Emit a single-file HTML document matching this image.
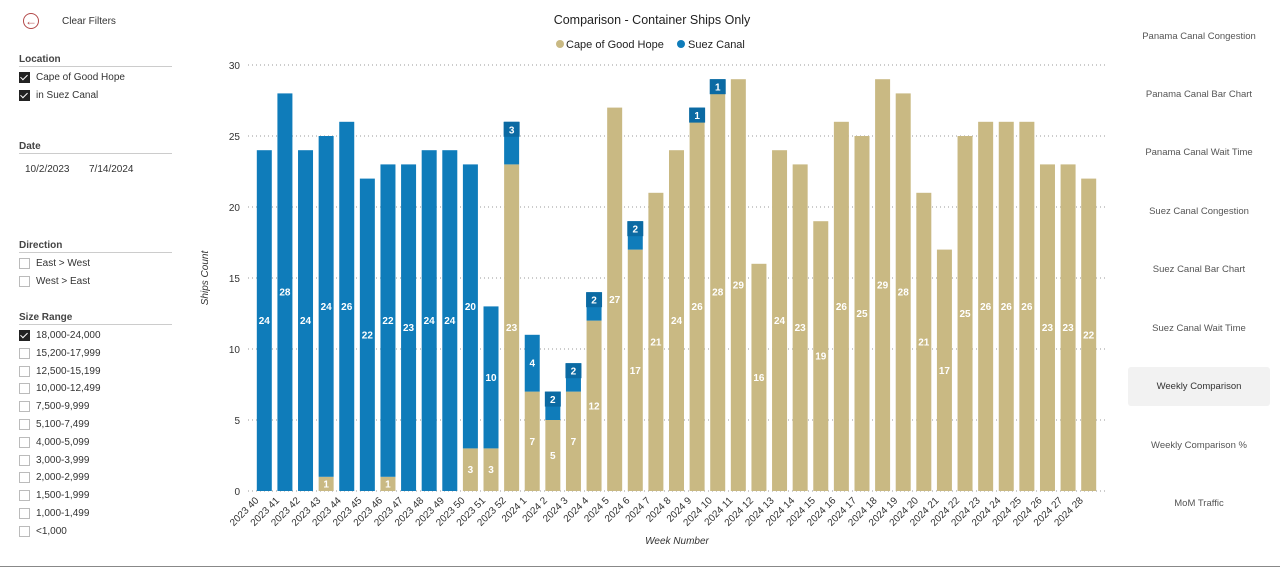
<!DOCTYPE html>
<html><head><meta charset="utf-8"><style>
body{margin:0;width:1280px;height:568px;background:#fff;font-family:"Liberation Sans",sans-serif;overflow:hidden;position:relative}
.t{position:absolute;font-size:10px;color:#333;white-space:nowrap}
.h{position:absolute;font-size:10px;font-weight:bold;color:#444;left:19px;width:153px;border-bottom:1px solid #ccc;padding-bottom:1px}
.cb{position:absolute;width:9px;height:9px;border:1px solid #bbb;left:19px}
.cb.on{background:#222;border-color:#222}
.cb.on:after{content:"";position:absolute;left:2px;top:0px;width:3px;height:6px;border:solid #fff;border-width:0 1.5px 1.5px 0;transform:rotate(45deg)}
.nav{position:absolute;left:1128px;width:142px;text-align:center;font-size:9.5px;color:#555}
</style></head><body>
<div style="position:absolute;left:23px;top:13px;width:14px;height:14px;border:1.5px solid #b34a4a;border-radius:50%;color:#b34a4a;font-size:12px;line-height:14px;text-align:center">←</div>
<div class="t" style="left:62px;top:16px">Clear Filters</div>
<div class="h" style="top:54px">Location</div>
<div class="cb on" style="top:72px"></div><div class="t" style="left:36px;top:72px">Cape of Good Hope</div>
<div class="cb on" style="top:90px"></div><div class="t" style="left:36px;top:90px">in Suez Canal</div>
<div class="h" style="top:141px">Date</div>
<div class="t" style="left:25px;top:164px">10/2/2023</div>
<div class="t" style="left:89px;top:164px">7/14/2024</div>
<div class="h" style="top:240px">Direction</div>
<div class="cb" style="top:258px"></div><div class="t" style="left:36px;top:258px">East &gt; West</div>
<div class="cb" style="top:276px"></div><div class="t" style="left:36px;top:276px">West &gt; East</div>
<div class="h" style="top:312px">Size Range</div>
<div id="sizes"></div>
<div class="nav" style="top:31px">Panama Canal Congestion</div>
<div class="nav" style="top:89px">Panama Canal Bar Chart</div>
<div class="nav" style="top:147px">Panama Canal Wait Time</div>
<div class="nav" style="top:206px">Suez Canal Congestion</div>
<div class="nav" style="top:264px">Suez Canal Bar Chart</div>
<div class="nav" style="top:323px">Suez Canal Wait Time</div>
<div class="nav" style="top:367px;height:39px;line-height:39px;background:#f2f2f2;border-radius:3px;color:#333">Weekly Comparison</div>
<div class="nav" style="top:440px">Weekly Comparison %</div>
<div class="nav" style="top:498px">MoM Traffic</div>
<svg id="c" width="1280" height="568" style="position:absolute;left:0;top:0"></svg>
<script>
const categories=["2023 40","2023 41","2023 42","2023 43","2023 44","2023 45","2023 46","2023 47","2023 48","2023 49","2023 50","2023 51","2023 52","2024 1","2024 2","2024 3","2024 4","2024 5","2024 6","2024 7","2024 8","2024 9","2024 10","2024 11","2024 12","2024 13","2024 14","2024 15","2024 16","2024 17","2024 18","2024 19","2024 20","2024 21","2024 22","2024 23","2024 24","2024 25","2024 26","2024 27","2024 28"];
const capeValues=[0,0,0,1,0,0,1,0,0,0,3,3,23,7,5,7,12,27,17,21,24,26,28,29,16,24,23,19,26,25,29,28,21,17,25,26,26,26,23,23,22];
const suezValues=[24,28,24,24,26,22,22,23,24,24,20,10,3,4,2,2,2,0,2,0,0,1,1,0,0,0,0,0,0,0,0,0,0,0,0,0,0,0,0,0,0];
const yTicks=[0,5,10,15,20,25,30];
const sizeOptions=["18,000-24,000","15,200-17,999","12,500-15,199","10,000-12,499","7,500-9,999","5,100-7,499","4,000-5,099","3,000-3,999","2,000-2,999","1,500-1,999","1,000-1,499","<1,000"];
const sz=document.getElementById('sizes');
sizeOptions.forEach((s,i)=>{
  const b=document.createElement('div');b.className='cb'+(i==0?' on':'');b.style.top=(330+i*17.8)+'px';
  
  
  sz.appendChild(b);
  const t=document.createElement('div');t.className='t';t.style.left='36px';t.style.top=(330+i*17.8)+'px';t.textContent=s;
  
  
  sz.appendChild(t);
});
const NS="http://www.w3.org/2000/svg",svg=document.getElementById('c');
function el(tag,a,txt){const e=document.createElementNS(NS,tag);for(const k in a)e.setAttribute(k,a[k]);if(txt!=null)e.textContent=txt;svg.appendChild(e);return e;}
const x0=254,x1=1099,y0=491,yTop=65,ymax=30;
const step=(x1-x0)/categories.length,bw=15;
const X=i=>x0+step*(i+0.5), Y=v=>y0-(v/ymax)*(y0-yTop);
const CAPE="#c9b983",SUEZ="#0f7cba";
yTicks.forEach(v=>{
  const l=el('line',{x1:x0-6,x2:1108,y1:Y(v),y2:Y(v),stroke:'#999','stroke-dasharray':'1,3'});
  
  
  const t=el('text',{x:240,y:Y(v)+4,'text-anchor':'end','font-size':10,fill:'#333'},v);
  
  
});
function lab(x,y,v,onBox,boxColor){
  if(onBox){const r=el('rect',{x:x-8,y:y-8,width:16,height:15,fill:boxColor});}
  const t=el('text',{x:x,y:y+3.5,'text-anchor':'middle','font-size':10,'font-weight':'bold',fill:'#fff'},v);
  
  
}
categories.forEach((c,i)=>{
  const cx=X(i),cp=capeValues[i],sv=suezValues[i];
  if(cp>0){const r=el('rect',{x:cx-bw/2,y:Y(cp),width:bw,height:y0-Y(cp),fill:CAPE});
    }
  if(sv>0){const r=el('rect',{x:cx-bw/2,y:Y(cp+sv),width:bw,height:Y(cp)-Y(cp+sv),fill:SUEZ});
    }
  if(cp>0)lab(cx,(Y(cp)+y0)/2,cp,false);
  if(sv>0){const small=sv<4;lab(cx,small?Y(cp+sv)+8:(Y(cp+sv)+Y(cp))/2,sv,small,'#0b6aa3');}
  const t=el('text',{x:cx-5,y:y0+10,'text-anchor':'end','font-size':10,fill:'#333',transform:`rotate(-45 ${cx-5} ${y0+10})`},c);
  
  
});
let t=el('text',{x:652,y:24,'text-anchor':'middle','font-size':12.5,fill:'#222'},'Comparison - Container Ships Only');

let c1=el('circle',{cx:560,cy:44,r:4,fill:CAPE});
t=el('text',{x:566,y:48,'font-size':11,fill:'#222'},'Cape of Good Hope');
let c2=el('circle',{cx:681,cy:44,r:4,fill:SUEZ});
t=el('text',{x:688,y:48,'font-size':11,fill:'#222'},'Suez Canal');
t=el('text',{x:208,y:278,'text-anchor':'middle','font-size':10,'font-style':'italic',fill:'#333',transform:'rotate(-90 208 278)'},'Ships Count');

t=el('text',{x:677,y:544,'text-anchor':'middle','font-size':10,'font-style':'italic',fill:'#333'},'Week Number');

let bl=el('line',{x1:0,x2:1280,y1:566.5,y2:566.5,stroke:'#888'});
</script>
</body></html>
